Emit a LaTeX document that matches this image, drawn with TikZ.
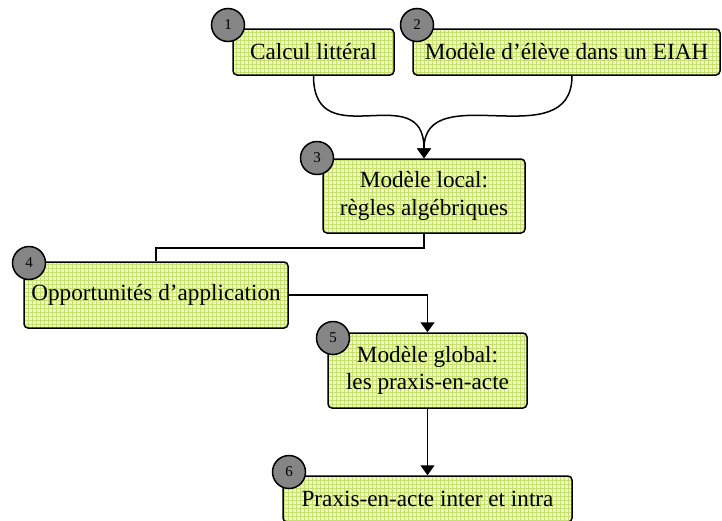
\documentclass[tikz,border=0pt]{standalone}
\usepackage{fontspec}
\setmainfont{Liberation Serif}
\usetikzlibrary{arrows.meta}
\usetikzlibrary{patterns.meta}

\definecolor{fond}{HTML}{EEF8C4}
\definecolor{grille}{HTML}{C6E070}
\definecolor{gris}{HTML}{858585}

\tikzdeclarepattern{
  name=quadrillage,
  type=uncolored,
  bounding box={(-0.25pt,-0.25pt) and (2.25pt,2.25pt)},
  tile size={(2pt,2pt)},
  code={\draw [line width=0.45pt] (0pt,0pt) -- (2pt,0pt) (0pt,0pt) -- (0pt,2pt);}
}

\tikzset{
  bloc/.style={draw=black, line width=0.75pt, rounded corners=2pt,
    preaction={fill=fond}, pattern=quadrillage, pattern color=grille,
    inner sep=0pt, align=center, font=\fontsize{11.6}{13.8}\selectfont},
  pastille/.style={draw=black, line width=0.75pt, fill=gris, circle,
    inner sep=0pt, minimum size=16.5pt, font=\fontsize{7.5}{8}\selectfont},
  trait/.style={line width=0.75pt, black},
}

\begin{document}
\begin{tikzpicture}[x=0.5pt,y=-0.5pt]
\def\l{5pt}
\def\w{7pt}
\useasboundingbox (0,0) rectangle (722,520);

\node [bloc, minimum width=80.5pt, minimum height=23pt, name=e1]   at (313.5,52) {Calcul littéral};
\node [bloc, minimum width=153.5pt, minimum height=23pt, name=e2]  at (566.5,52) {Modèle d’élève dans un EIAH};
\node [bloc, minimum width=101pt, minimum height=37pt, name=e3]    at (424,196) {Modèle local:\\règles algébriques};
\node [bloc, minimum width=132pt, minimum height=33pt, name=e4]    at (156,295) {Opportunités d’application};
\node [bloc, minimum width=99.5pt, minimum height=37.5pt, name=e5] at (427.5,370.5) {Modèle global:\\les praxis-en-acte};
\node [bloc, minimum width=144.5pt, minimum height=23pt, name=e6]  at (427.5,499) {Praxis-en-acte inter et intra};

\node [pastille, name=n1] at (228,25) {1};
\node [pastille, name=n2] at (417,25) {2};
\node [pastille, name=n3] at (317,158) {3};
\node [pastille, name=n4] at (29,263) {4};
\node [pastille, name=n5] at (333,338) {5};
\node [pastille, name=n6] at (289,472) {6};

\draw [trait, -{Triangle[length=\l, width=\w]}](e1.south) .. controls +(0,82) and +(0,-82) .. (e3.north);
\draw [trait, -{Triangle[length=\l, width=\w]}]([xshift=2.75pt]e2.south) .. controls +(0,82) and +(0,-82) .. (e3.north);
\draw [trait](e3.south) -- ++(0,14) -| (e4.north);
\draw [trait, -{Triangle[length=\l, width=\w]}](e4.east) -| (e5.north);
\draw [trait, -{Triangle[length=\l, width=\w]}](e5.south) -- (e6.north);
\end{tikzpicture}
\end{document}
